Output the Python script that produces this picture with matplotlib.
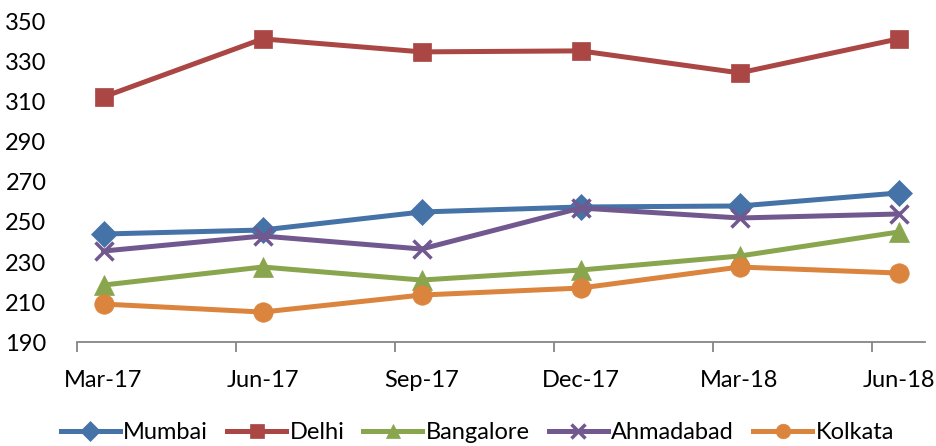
import matplotlib.pyplot as plt
from matplotlib.ticker import FixedLocator

# Data (quarterly)
quarters = ["Mar-17", "Jun-17", "Sep-17", "Dec-17", "Mar-18", "Jun-18"]
month_idx = [0, 3, 6, 9, 12, 15]

mumbai = [244, 246, 255, 257.5, 258, 264.5]
delhi = [312.5, 341.5, 335, 335.5, 324.5, 341.5]
bangalore = [218.5, 227.5, 221, 226, 233, 245]
ahmadabad = [235.5, 243, 236.5, 257, 252, 254]
kolkata = [209, 205, 213.5, 217, 227.5, 224.5]

series = [
    ("Mumbai", mumbai, "#4572A7", "D", 13),
    ("Delhi", delhi, "#AA4643", "s", 13),
    ("Bangalore", bangalore, "#89A54E", "^", 14),
    ("Ahmadabad", ahmadabad, "#71588F", "x", 13),
    ("Kolkata", kolkata, "#DB843D", "o", 14),
]

plt.rcParams['font.family'] = ['Lato', 'DejaVu Sans']

fig = plt.figure(figsize=(9.36, 4.46), dpi=100)
ax = fig.add_axes([0.0823, 0.233, 0.906, 0.718])

for name, vals, col, mk, ms in series:
    ax.plot(month_idx, vals, color=col, lw=3.6, marker=mk, markersize=ms,
            markeredgewidth=2.5 if mk == "x" else 0.5, markeredgecolor=col,
            label=name)

ax.set_xlim(-0.5, 15.5)
ax.set_ylim(190, 350)
ax.set_yticks(range(190, 351, 20))

# tick marks between months, labels centered on the data points
ax.xaxis.set_major_locator(FixedLocator([-0.5 + 3 * k for k in range(6)]))
ax.xaxis.set_major_formatter(plt.NullFormatter())
ax.xaxis.set_minor_locator(FixedLocator(month_idx))
ax.set_xticklabels(quarters, minor=True)
ax.tick_params(axis="x", which="major", length=7, width=1.3, color="#868686", direction="out")
ax.tick_params(axis="x", which="minor", length=0, pad=20, labelsize=17)
ax.tick_params(axis="y", length=0, pad=22, labelsize=17)

for s in ["top", "right", "left"]:
    ax.spines[s].set_visible(False)
ax.spines["bottom"].set_color("#868686")
ax.spines["bottom"].set_linewidth(1.3)

leg = fig.legend(loc="center", bbox_to_anchor=(0.51, 0.03), ncol=5,
                 frameon=False, handlelength=2.5, columnspacing=0.8,
                 handletextpad=0.15, markerscale=0.75, fontsize=17)

fig.savefig("out.png", dpi=100)
